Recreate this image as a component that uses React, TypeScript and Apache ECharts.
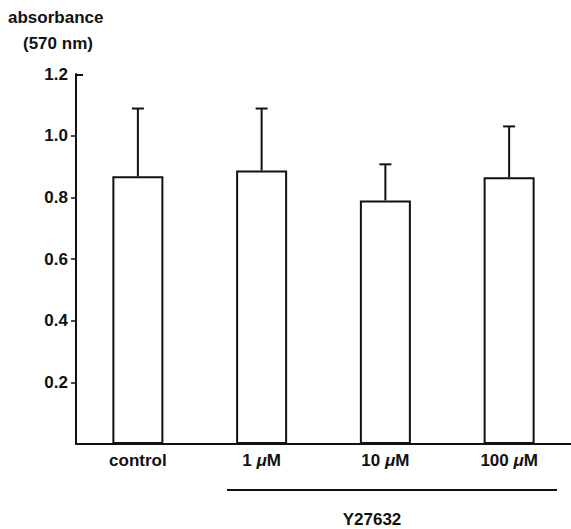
import React, { useEffect, useRef } from "react";
import * as echarts from "echarts";

const categories = ["control", "1 μM", "10 μM", "100 μM"];
const means = [0.868, 0.887, 0.79, 0.865];
const upperErrors = [1.088, 1.088, 0.907, 1.03];
const yTicks = [0.2, 0.4, 0.6, 0.8, 1.0];
const groupLabel = "Y27632";

const FONT = "'Liberation Sans', Arial, Helvetica, sans-serif";
const FS = 17;

export default function App() {
  const ref = useRef<HTMLDivElement>(null);
  useEffect(() => {
    if (!ref.current) return;
    const chart = echarts.init(ref.current, undefined, { renderer: "svg" });
    const errData = categories.map((_, i) => [i, upperErrors[i], means[i]]);
    const rich = {
      a: { fontFamily: FONT, fontSize: FS, fontWeight: "bold", color: "#111" },
      mu: { fontFamily: FONT, fontSize: FS, fontWeight: "bold", color: "#111", fontStyle: "italic" },
    };
    chart.setOption({
      animation: false,
      backgroundColor: "#fff",
      grid: { left: 76, right: 0, top: 74, bottom: 85 },
      xAxis: {
        type: "category",
        data: categories,
        axisLine: { lineStyle: { color: "#111", width: 2 } },
        axisTick: { show: false },
        axisLabel: {
          interval: 0,
          margin: 8,
          formatter: (v: string) => {
            if (v.includes("μ")) {
              const parts = v.split("μ");
              return `{a|${parts[0]}}{mu|μ}{a|${parts[1]}}`;
            }
            return `{a|${v}}`;
          },
          rich,
        },
      },
      yAxis: {
        type: "value",
        min: 0,
        max: 1.2,
        interval: 0.2,
        splitLine: { show: false },
        axisLine: { show: true, lineStyle: { color: "#111", width: 2 } },
        axisTick: { show: true, length: 5, customValues: yTicks, lineStyle: { color: "#111", width: 1.5 } },
        axisLabel: {
          margin: 8,
          color: "#111",
          fontFamily: FONT,
          fontSize: FS,
          fontWeight: "bold",
          formatter: (v: number) => (v === 0 ? "" : v.toFixed(1)),
        },
      },
      series: [
        {
          type: "bar",
          data: means,
          barWidth: 51,
          itemStyle: { color: "#fff", borderColor: "#111", borderWidth: 2 },
          z: 2,
        },
        {
          type: "custom",
          data: errData,
          encode: { x: 0, y: 1 },
          z: 3,
          renderItem: (params: any, api: any) => {
            const x = api.value(0);
            const top = api.coord([x, api.value(1)]);
            const base = api.coord([x, api.value(2)]);
            const style = { stroke: "#111", lineWidth: 2 };
            return {
              type: "group",
              children: [
                { type: "line", shape: { x1: base[0], y1: base[1], x2: top[0], y2: top[1] }, style },
                { type: "line", shape: { x1: top[0] - 6, y1: top[1], x2: top[0] + 6, y2: top[1] }, style },
              ],
            };
          },
        },
      ],
      graphic: [
        { type: "text", left: 8, top: 9, style: { text: "absorbance", font: `bold ${FS}px ${FONT}`, fill: "#111" } },
        { type: "text", left: 23, top: 35, style: { text: "(570 nm)", font: `bold ${FS}px ${FONT}`, fill: "#111" } },
        { type: "line", shape: { x1: 76, y1: 75, x2: 83, y2: 75 }, style: { stroke: "#111", lineWidth: 2 } },
        { type: "line", shape: { x1: 227, y1: 490, x2: 557, y2: 490 }, style: { stroke: "#111", lineWidth: 2 } },
        { type: "text", x: 372, y: 519, style: { text: groupLabel, font: `bold ${FS}px ${FONT}`, fill: "#111", align: "center", verticalAlign: "middle" } },
      ],
    });
    return () => chart.dispose();
  }, []);
  return <div ref={ref} style={{ position: "absolute", left: 0, top: 0, width: 571, height: 529 }} />;
}
